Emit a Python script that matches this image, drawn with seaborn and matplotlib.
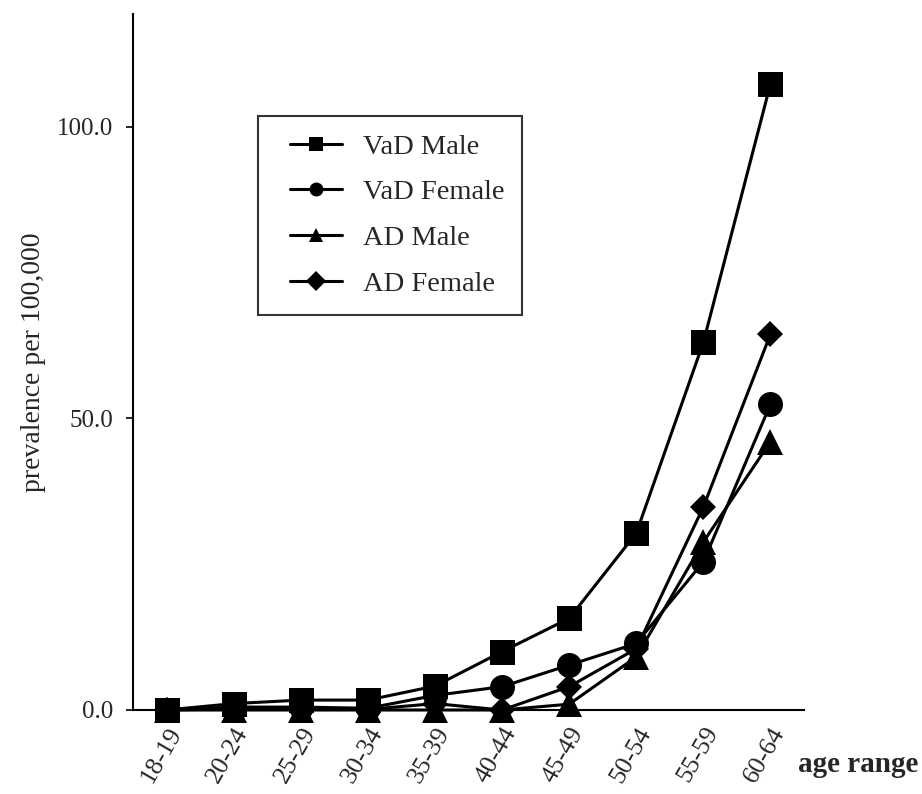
import pandas as pd
import matplotlib.pyplot as plt
import matplotlib.transforms as mtransforms
from matplotlib.legend_handler import HandlerLine2D
import seaborn as sns

# ---------------------------------------------------
# data
# ---------------------------------------------------
age_groups = ['18-19', '20-24', '25-29', '30-34', '35-39',
              '40-44', '45-49', '50-54', '55-59', '60-64']
vad_male = [0.0, 1.1, 1.7, 1.7, 4.1, 10.0, 15.7, 30.3, 63.0, 107.3]
vad_female = [0.0, 0.5, 0.5, 0.3, 2.5, 4.0, 7.7, 11.4, 25.4, 52.4]
ad_male = [0.0, 0.0, 0.0, 0.0, 0.0, 0.0, 1.0, 9.1, 28.8, 46.0]
ad_female = [0.0, 0.2, 0.2, 0.1, 1.1, 0.0, 4.0, 10.5, 34.8, 64.4]

series = [('VaD Male', vad_male, 's', 18),
          ('VaD Female', vad_female, 'o', 18),
          ('AD Male', ad_male, '^', 19),
          ('AD Female', ad_female, 'D', 13.5)]


class ShiftedLine(HandlerLine2D):
    # legend handle drawn with some extra room on its left
    def __init__(self, offset, **kw):
        super().__init__(**kw)
        self.offset = offset

    def create_artists(self, legend, orig_handle, xdescent, ydescent,
                       width, height, fontsize, trans):
        return super().create_artists(legend, orig_handle,
                                      xdescent - self.offset, ydescent,
                                      width - self.offset, height,
                                      fontsize, trans)


sns.set_style('ticks')
plt.rcParams['font.family'] = ['Liberation Serif', 'DejaVu Serif']

fig = plt.figure(figsize=(9.22, 7.94), dpi=100)
ax = fig.add_axes([133 / 922, 84 / 794, (804 - 133) / 922, (710 - 14) / 794])

x = list(range(len(age_groups)))
for name, vals, mk, ms in series:
    df = pd.DataFrame({'x': x, 'y': vals})
    sns.lineplot(data=df, x='x', y='y', ax=ax, color='black', linewidth=2.2,
                 marker=mk, markersize=ms, markeredgewidth=0, label=name,
                 clip_on=False, zorder=3)

ax.set_xlim(-0.5, 9.5)
ax.set_ylim(0, 119.3)
ax.set_xticks(x)
ax.set_xticklabels(age_groups, rotation=60, ha='right', rotation_mode='anchor',
                   fontsize=18.5)
# nudge the rotated labels a little to the right, like the original
shift = mtransforms.ScaledTranslation(9 / 100, 0, fig.dpi_scale_trans)
for lab in ax.get_xticklabels():
    lab.set_transform(lab.get_transform() + shift)
ax.set_yticks([0, 50, 100])
ax.set_yticklabels(['0.0', '50.0', '100.0'], fontsize=18)
ax.tick_params(axis='x', length=0, pad=9.5)
ax.tick_params(axis='y', length=5, width=1.4, pad=9)
ax.set_xlabel('')
ax.set_ylabel('prevalence per 100,000', fontsize=20, labelpad=8)

for side in ['top', 'right']:
    ax.spines[side].set_visible(False)
for side in ['left', 'bottom']:
    ax.spines[side].set_linewidth(1.5)
    ax.spines[side].set_color('black')

handles, labels = ax.get_legend_handles_labels()
leg = ax.legend(handles, labels, loc='upper left',
                bbox_to_anchor=(258 / 922, (794 - 116) / 794),
                bbox_transform=fig.transFigure, borderaxespad=0, fontsize=20.5,
                frameon=True, fancybox=False, edgecolor='black',
                handlelength=2.33, labelspacing=0.7, borderpad=0.62,
                handletextpad=0.74,
                handler_map={h: ShiftedLine(10.3) for h in handles})
leg.get_frame().set_linewidth(1.5)
for h in leg.legend_handles:
    h.set_markersize(10)

fig.text(918 / 922, (794 - 765) / 794, 'age range', ha='right',
         va='center', fontsize=21, fontweight='bold')

fig.savefig('out.png', dpi=100)
